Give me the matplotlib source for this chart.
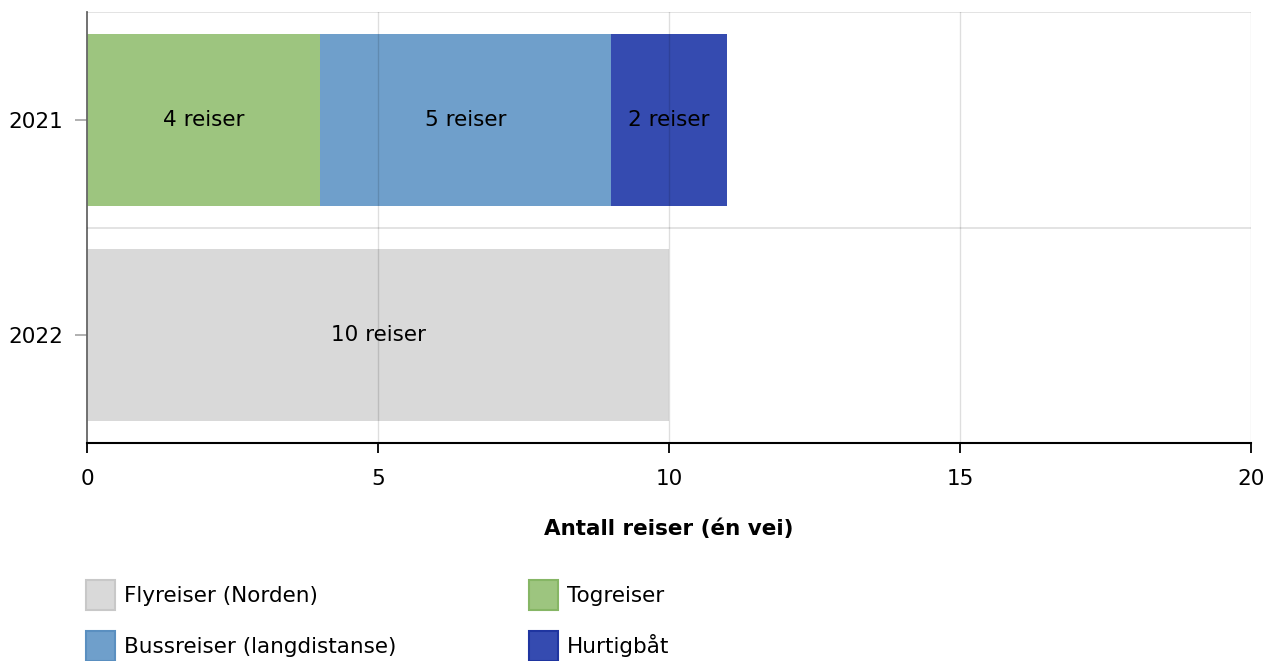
import numpy as np
import matplotlib.pyplot as plt
from matplotlib.patches import Patch

years = ['2021', '2022']
fly = [0, 10]
tog = [4, 0]
buss = [5, 0]
hurtig = [2, 0]

series = [
    ('Flyreiser (Norden)', fly, '#d9d9d9', '#c8c8c8'),
    ('Togreiser', tog, '#9dc57f', '#86b665'),
    ('Bussreiser (langdistanse)', buss, '#6f9fcb', '#5a8fc0'),
    ('Hurtigbåt', hurtig, '#354bb0', '#1f35a0'),
]

FS = 15.5

fig = plt.figure(figsize=(12.67, 6.61), dpi=100)
ax = fig.add_axes([0.0687, 0.3298, 0.9187, 0.652])

ypos = np.arange(len(years))
left = np.zeros(len(years))
for name, vals, col, ecol in series:
    vals = np.array(vals, dtype=float)
    bars = ax.barh(ypos, vals, left=left, height=0.8, color=col, zorder=1)
    for b, v in zip(bars, vals):
        if v > 0:
            ax.text(b.get_x() + b.get_width() / 2, b.get_y() + b.get_height() / 2,
                    f'{int(v)} reiser', ha='center', va='center', fontsize=FS, zorder=4)
    left += vals

ax.set_xlim(0, 20)
ax.set_ylim(1.5, -0.5)
ax.set_xticks([0, 5, 10, 15, 20])
ax.set_yticks(ypos)
ax.set_yticklabels(years)

for x in [5, 10, 15, 20]:
    ax.axvline(x, color='#000000', alpha=0.13, lw=1, zorder=3)
for y in [-0.5, 0.5]:
    ax.axhline(y, color='#000000', alpha=0.12, lw=1.3, zorder=3)

for s in ['top', 'right']:
    ax.spines[s].set_visible(False)
ax.spines['left'].set_color('#666666')
ax.spines['left'].set_linewidth(1.3)
ax.spines['bottom'].set_color('#000000')
ax.spines['bottom'].set_linewidth(1.5)
ax.spines['bottom'].set_zorder(5)

ax.tick_params(axis='y', length=9, color='#aaaaaa', width=1.3, labelsize=FS, pad=8)
ax.tick_params(axis='x', length=7, color='#000000', width=1.3, labelsize=FS, pad=12)

ax.set_xlabel('Antall reiser (én vei)', fontsize=FS, fontweight='bold', labelpad=21)

handles = {n: Patch(facecolor=c, edgecolor=e, linewidth=1.5, label=n) for n, _, c, e in series}
col1 = [handles['Flyreiser (Norden)'], handles['Bussreiser (langdistanse)']]
col2 = [handles['Togreiser'], handles['Hurtigbåt']]
for hs, xpos in [(col1, 86 / 1267), (col2, 529 / 1267)]:
    fig.legend(handles=hs, loc='upper left', bbox_to_anchor=(xpos, 1 - 580 / 661),
               frameon=False, fontsize=FS, handlelength=1.35, handleheight=1.75,
               handletextpad=0.4, labelspacing=1.0, borderaxespad=0, borderpad=0)

fig.savefig('out.png', dpi=100)
